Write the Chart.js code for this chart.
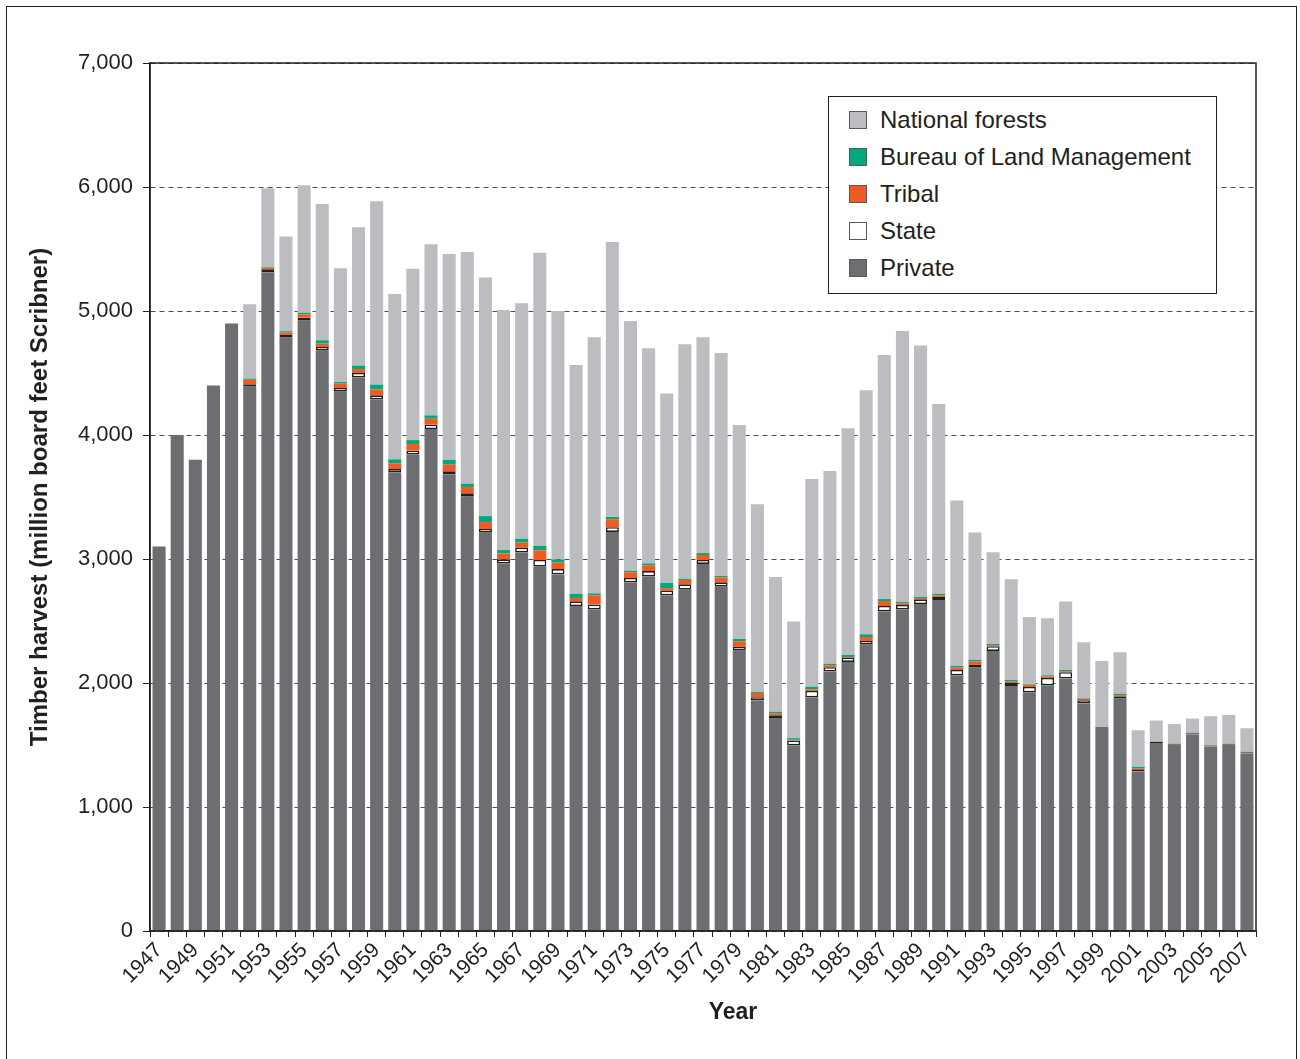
<!DOCTYPE html>
<html>
<head>
<meta charset="utf-8">
<script src="https://cdn.jsdelivr.net/npm/chart.js@4.4.1/dist/chart.umd.min.js"></script>
<style>
  html, body { margin: 0; padding: 0; background: #fff; }
  body { width: 1300px; height: 1059px; position: relative; overflow: hidden;
         font-family: 'Liberation Sans', Arial, sans-serif; color: #231f20; }
  #frame { position: absolute; left: 6px; top: 6px; width: 1291px; height: 1100px;
           border: 1px solid #231f20; box-sizing: border-box; }
  #chart { position: absolute; left: 0; top: 0; }
  #legend { position: absolute; left: 828px; top: 96px; width: 389px; height: 198px;
            border: 1.5px solid #231f20; background: #fff; box-sizing: border-box; }
  .item { position: absolute; left: 20px; height: 37px; display: flex; align-items: center;
          font-size: 24px; white-space: nowrap; }
  .box { width: 18px; height: 18px; border: 1px solid #58595b; margin-right: 13px; box-sizing: border-box; }
</style>
</head>
<body>
<div id="frame"></div>
<canvas id="chart" width="1300" height="1059"></canvas>
<div id="legend"></div>
<script>
// Timber harvest by owner, 1947-2007 (million board feet Scribner)
const years = [];
for (let y = 1947; y <= 2007; y++) years.push(String(y));

const privateHarvest = [
  3100, 4000, 3800, 4400, 4900, 4390, 5312, 4785, 4922, 4680,
  4349, 4465, 4288, 3699, 3844, 4048, 3683, 3503, 3212, 2965,
  3054, 2938, 2876, 2621, 2594, 3218, 2812, 2860, 2707, 2753,
  2960, 2777, 2261, 1858, 1718, 1497, 1885, 2092, 2170, 2309,
  2578, 2594, 2637, 2670, 2062, 2122, 2259, 1976, 1925, 1982,
  2036, 1834, 1646, 1872, 1286, 1517, 1503, 1584, 1487, 1503,
  1431
];
const stateHarvest = [
  0, 0, 0, 0, 0, 20, 24, 22, 24, 30,
  30, 35, 32, 27, 32, 35, 24, 27, 30, 32,
  38, 54, 43, 38, 40, 38, 35, 43, 38, 43,
  32, 35, 30, 27, 22, 40, 51, 35, 35, 30,
  43, 35, 38, 24, 43, 24, 38, 24, 43, 59,
  51, 27, 0, 22, 19, 8, 8, 10, 8, 8,
  10
];
const tribalHarvest = [
  0, 0, 0, 0, 0, 35, 13, 19, 27, 27,
  35, 32, 48, 46, 51, 48, 54, 51, 56, 48,
  40, 78, 51, 27, 73, 65, 46, 46, 20, 35,
  40, 40, 46, 35, 16, 5, 13, 16, 5, 32,
  40, 13, 11, 13, 19, 27, 8, 11, 16, 13,
  8, 11, 0, 8, 8, 3, 3, 3, 3, 3,
  3
];
const blmHarvest = [
  0, 0, 0, 0, 0, 10, 5, 11, 13, 27,
  13, 27, 38, 32, 32, 27, 38, 27, 48, 27,
  30, 35, 27, 32, 16, 19, 11, 16, 43, 8,
  16, 11, 19, 8, 11, 13, 22, 11, 16, 22,
  16, 11, 8, 11, 13, 13, 11, 13, 5, 8,
  11, 5, 0, 11, 11, 2, 2, 2, 2, 2,
  2
];
const nationalForests = [
  0, 0, 0, 0, 0, 600, 636, 763, 1029, 1099,
  918, 1116, 1479, 1333, 1382, 1380, 1661, 1868, 1925, 1936,
  1900, 2365, 2003, 1846, 2065, 2216, 2015, 1734, 1527, 1892,
  1740, 1799, 1725, 1513, 1088, 940, 1674, 1556, 1828, 1967,
  1968, 2186, 2027, 1532, 1334, 1027, 738, 813, 544, 460,
  551, 451, 532, 335, 295, 167, 154, 114, 232, 227,
  189
];
const yTicks = [0, 1000, 2000, 3000, 4000, 5000, 6000, 7000];

const FONT = "'Liberation Sans', Arial, sans-serif";
const INK = '#231f20';

const series = [
  { label: 'Private', data: privateHarvest, color: '#6d6e71' },
  { label: 'State', data: stateHarvest, color: '#ffffff', border: INK },
  { label: 'Tribal', data: tribalHarvest, color: '#f15a22' },
  { label: 'Bureau of Land Management', data: blmHarvest, color: '#00a87e' },
  { label: 'National forests', data: nationalForests, color: '#bcbdc0' }
];

// black frame round the plot area, plus the "Year" title (sits a bit right of centre)
const plotFrame = {
  id: 'plotFrame',
  afterDraw(chart) {
    const { ctx, chartArea: a } = chart;
    ctx.save();
    ctx.strokeStyle = INK;
    ctx.lineWidth = 1.5;
    ctx.strokeRect(a.left, a.top, a.right - a.left, a.bottom - a.top);
    ctx.fillStyle = INK;
    ctx.font = 'bold 23px ' + FONT;
    ctx.textAlign = 'center';
    ctx.textBaseline = 'middle';
    ctx.fillText('Year', (a.left + a.right) / 2 + 30, a.bottom + 82);
    ctx.restore();
  }
};

new Chart(document.getElementById('chart'), {
  type: 'bar',
  data: {
    labels: years,
    datasets: series.map(s => ({
      label: s.label,
      data: s.data,
      backgroundColor: s.color,
      borderColor: s.border || s.color,
      borderWidth: s.border ? 1.6 : 0,
      borderSkipped: false,
      categoryPercentage: 1,
      barPercentage: 0.72
    }))
  },
  options: {
    responsive: false,
    animation: false,
    devicePixelRatio: 1,
    layout: { padding: { top: 63, right: 44, left: 0, bottom: 0 } },
    plugins: { legend: { display: false }, tooltip: { enabled: false } },
    scales: {
      x: {
        stacked: true,
        afterFit: s => { s.height = 128; },
        grid: { display: true, drawOnChartArea: false, tickLength: 6, tickColor: INK, offset: true },
        border: { color: INK, width: 1.5 },
        ticks: {
          autoSkip: false, maxRotation: 45, minRotation: 45, padding: 1,
          color: INK, font: { family: FONT, size: 21 },
          callback: (v, i) => (i % 2 === 0 ? years[i] : '')
        },
        title: { display: false }
      },
      y: {
        stacked: true,
        min: 0, max: 7000,
        afterFit: s => { s.width = 150; },
        afterBuildTicks: s => { s.ticks = yTicks.map(v => ({ value: v })); },
        grid: { color: '#4d4d4f', lineWidth: 1, tickLength: 7, tickColor: INK },
        border: { color: INK, width: 1.5, dash: [5, 4] },
        ticks: {
          padding: 10, color: INK, font: { family: FONT, size: 22 },
          callback: v => v.toLocaleString('en-US')
        },
        title: { display: true, text: 'Timber harvest (million board feet Scribner)', color: INK,
                 font: { family: FONT, size: 24, weight: 'bold' }, padding: { top: 26 } }
      }
    }
  },
  plugins: [plotFrame]
});

// legend, top series first
const legend = document.getElementById('legend');
series.slice().reverse().forEach((s, i) => {
  const item = document.createElement('div');
  item.className = 'item';
  item.style.top = (4 + i * 37) + 'px';
  const box = document.createElement('span');
  box.className = 'box';
  box.style.background = s.color;
  const txt = document.createElement('span');
  txt.textContent = s.label;
  item.appendChild(box);
  item.appendChild(txt);
  legend.appendChild(item);
});
</script>
</body>
</html>
